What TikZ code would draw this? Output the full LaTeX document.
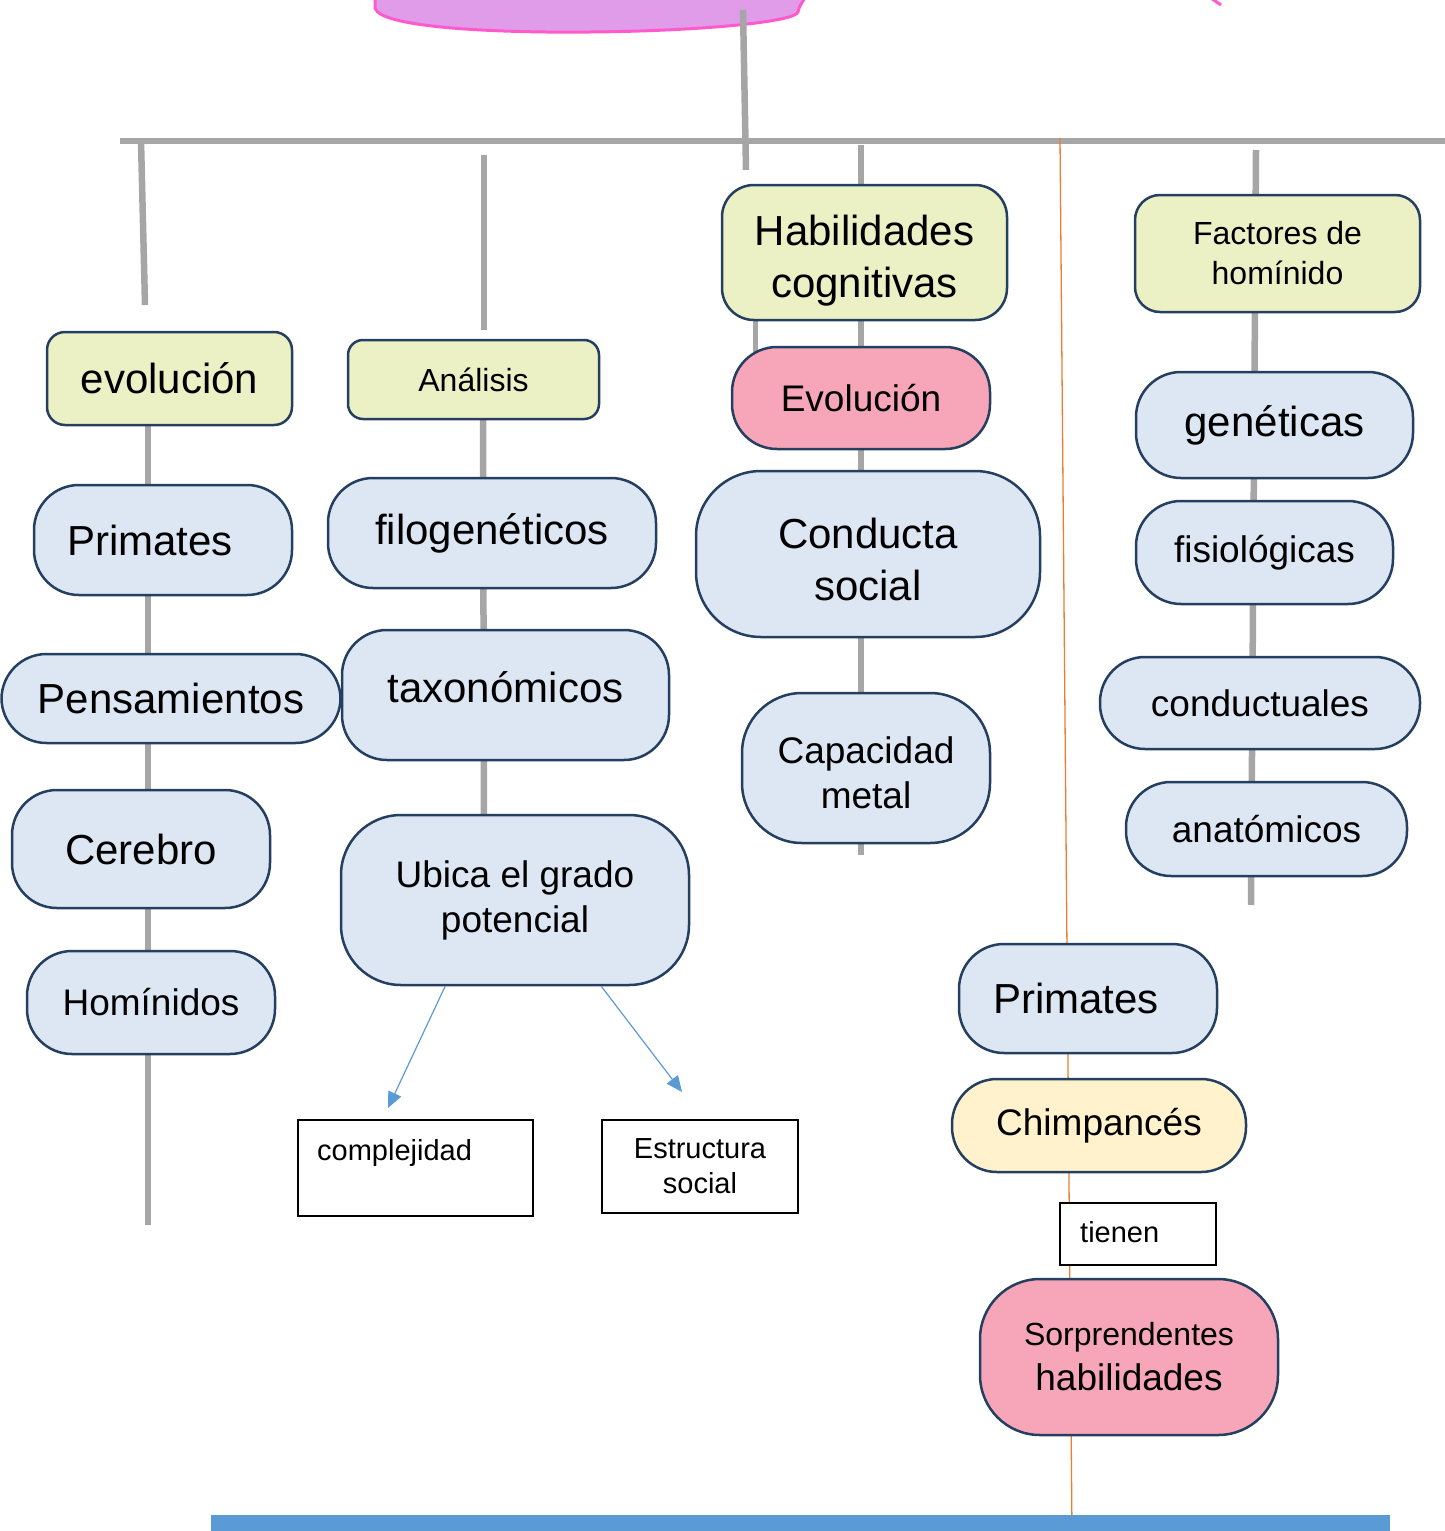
\documentclass[tikz,border=0pt]{standalone}
\usepackage{fontspec}
\setmainfont{Liberation Sans}
\usetikzlibrary{arrows.meta}
\definecolor{linegray}{HTML}{A6A6A6}
\definecolor{edgeblue}{HTML}{243F60}
\definecolor{paleblue}{HTML}{DDE7F4}
\definecolor{palegreen}{HTML}{EBF1C5}
\definecolor{palepink}{HTML}{F6A6B8}
\definecolor{paleyellow}{HTML}{FFF2CC}
\definecolor{cloudfill}{HTML}{E09CE8}
\definecolor{cloudedge}{HTML}{FF5ACD}
\definecolor{barblue}{HTML}{5B9BD5}
\definecolor{thread}{HTML}{ED7D31}
\newcommand\bigtxt{\fontsize{42}{52}\selectfont}
\newcommand\midtxt{\fontsize{37}{45}\selectfont}
\newcommand\smalltxt{\fontsize{32}{40}\selectfont}
\newcommand\tinytxt{\fontsize{29}{35}\selectfont}
\tikzset{
  trunk/.style={line width=6.5pt,draw=linegray},
  concept/.style={draw=edgeblue,line width=2.5pt,fill=paleblue,rounded corners=45pt,inner sep=0pt,align=center,font=\bigtxt},
  topic/.style={concept,fill=palegreen,rounded corners=18pt},
  hot/.style={concept,fill=palepink},
  note/.style={draw=black,line width=2pt,fill=white,inner sep=0pt},
  size/.style 2 args={minimum width=#1pt,minimum height=#2pt}
}

\begin{document}
\begin{tikzpicture}[x=1pt,y=-1pt]
    \useasboundingbox (0,0) rectangle (1445,1531);

    % cloud at the top
    \draw [fill=cloudfill, draw=cloudedge, line width=3pt] (375,-10) -- (375,8) .. controls (380,28) and (500,33) .. (590,32) .. controls (700,31) and (795,22) .. (798,12) .. controls (799,5) and (803,2) .. (810,-10);
    \draw [draw=cloudedge, line width=3pt] (1208,-4) .. controls (1214,1) .. (1221,5);

    % gray lines
    \coordinate (barL) at (120,141);
    \coordinate (barR) at (1445,141);
    \draw [trunk] (barL) -- (barR);
    \draw [trunk] (743,10) -- (746,170);
    \draw [trunk] (141,141) -- (145,305);
    \draw [trunk] (484,155) -- (484,330);
    \draw [trunk] (861,145) -- (861,855);
    \draw [trunk, line width=5pt] (755,318) -- (755,352);
    \draw [trunk] (1256,150) -- (1251,905);
    \draw [trunk] (483,415) -- (484,820);
    \draw [trunk] (148,420) -- (148,1225);

    % orange thread
    \coordinate (threadtop) at (1060,138);
    \coordinate (threadfoot) at (1072,1531);
    \draw [thread, line width=1.3pt, -{Square[length=7pt,width=9pt]}] (threadtop) -- (threadfoot);

    % bottom bar
    \fill [barblue] (211,1515) rectangle (1390,1531);

    % left column
    \node [topic, size={245}{93}] (evol) at (169.5,378.5) {evolución};
    \node [concept, size={258}{110}] (prim) at (163,540) {Primates\hspace{26pt}};
    \node [concept, size={339}{89}] (pens) at (171,698.5) {Pensamientos};
    \node [concept, size={258}{118}] (cereb) at (141,849) {Cerebro};
    \node [concept, size={248}{103}, font=\midtxt] (homin) at (151,1002.5) {Homínidos};

    % middle column
    \node [topic, size={251}{79}, rounded corners=15pt, font=\smalltxt] (anal) at (473.5,379.5) {Análisis};
    \node [concept, size={328}{110}] (filo) at (492,533) {filogenéticos};
    \node [concept, size={327}{130}] (taxo) at (505.5,695) {\raisebox{16pt}{taxonómicos}};
    \node [concept, size={348}{170}, rounded corners=60pt, font=\midtxt] (ubica) at (515,900) {Ubica el grado\\potencial};
    \node [note, size={235}{96}, label={[anchor=north west, inner sep=0pt, font=\tinytxt, xshift=20pt, yshift=-20pt]north west:complejidad}] (compl) at (415.5,1168) {};
    \node [note, size={196}{93}, align=center, font=\tinytxt] (estr) at (700,1166.5) {Estructura\\social};
    \coordinate (complTip) at (388,1108);
    \coordinate (estrTip) at (682,1092);
    \draw [barblue, line width=1.2pt, -{Triangle[length=16pt,width=14pt]}] (ubica.231) -- (complTip);
    \draw [barblue, line width=1.2pt, -{Triangle[length=16pt,width=14pt]}] (ubica.315) -- (estrTip);

    % center column
    \node [topic, size={285}{135}, rounded corners=32pt] (habil) at (864.5,252.5) {\rule{0pt}{46pt}Habilidades\\cognitivas};
    \node [hot, size={258}{102}, font=\midtxt] (evolc) at (861,398) {Evolución};
    \node [concept, size={344}{166}, rounded corners=65pt] (cond) at (868,554) {\rule{0pt}{42pt}Conducta\\social};
    \node [concept, size={248}{150}, rounded corners=60pt, font=\midtxt] (capac) at (866,768) {\rule{0pt}{36.5pt}Capacidad\\metal};

    % right column
    \node [topic, size={285}{117}, rounded corners=25pt, font=\smalltxt] (fact) at (1277.5,253.5) {Factores de\\homínido};
    \node [concept, size={277}{106}] (genet) at (1274.5,425) {genéticas};
    \node [concept, size={257}{103}, font=\midtxt] (fisio) at (1264.5,552.5) {fisiológicas};
    \node [concept, size={320}{92}, font=\midtxt] (conduc) at (1260,703) {conductuales};
    \node [concept, size={281}{94}, font=\midtxt] (anat) at (1266.5,829) {anatómicos};

    % bottom right
    \node [concept, size={258}{109}] (prim2) at (1088,998.5) {Primates\hspace{24pt}};
    \node [concept, size={294}{93}, fill=paleyellow, font=\midtxt] (chimp) at (1099,1125.5) {Chimpancés};
    \node [note, size={156}{62}, label={[anchor=north west, inner sep=0pt, font=\tinytxt, xshift=21pt, yshift=-19pt]north west:tienen}] (tienen) at (1138,1234) {};
    \node [hot, size={298}{156}, rounded corners=60pt, font=\midtxt] (sorpr) at (1129,1357) {{\smalltxt Sorprendentes}\\habilidades};
\end{tikzpicture}
\end{document}
